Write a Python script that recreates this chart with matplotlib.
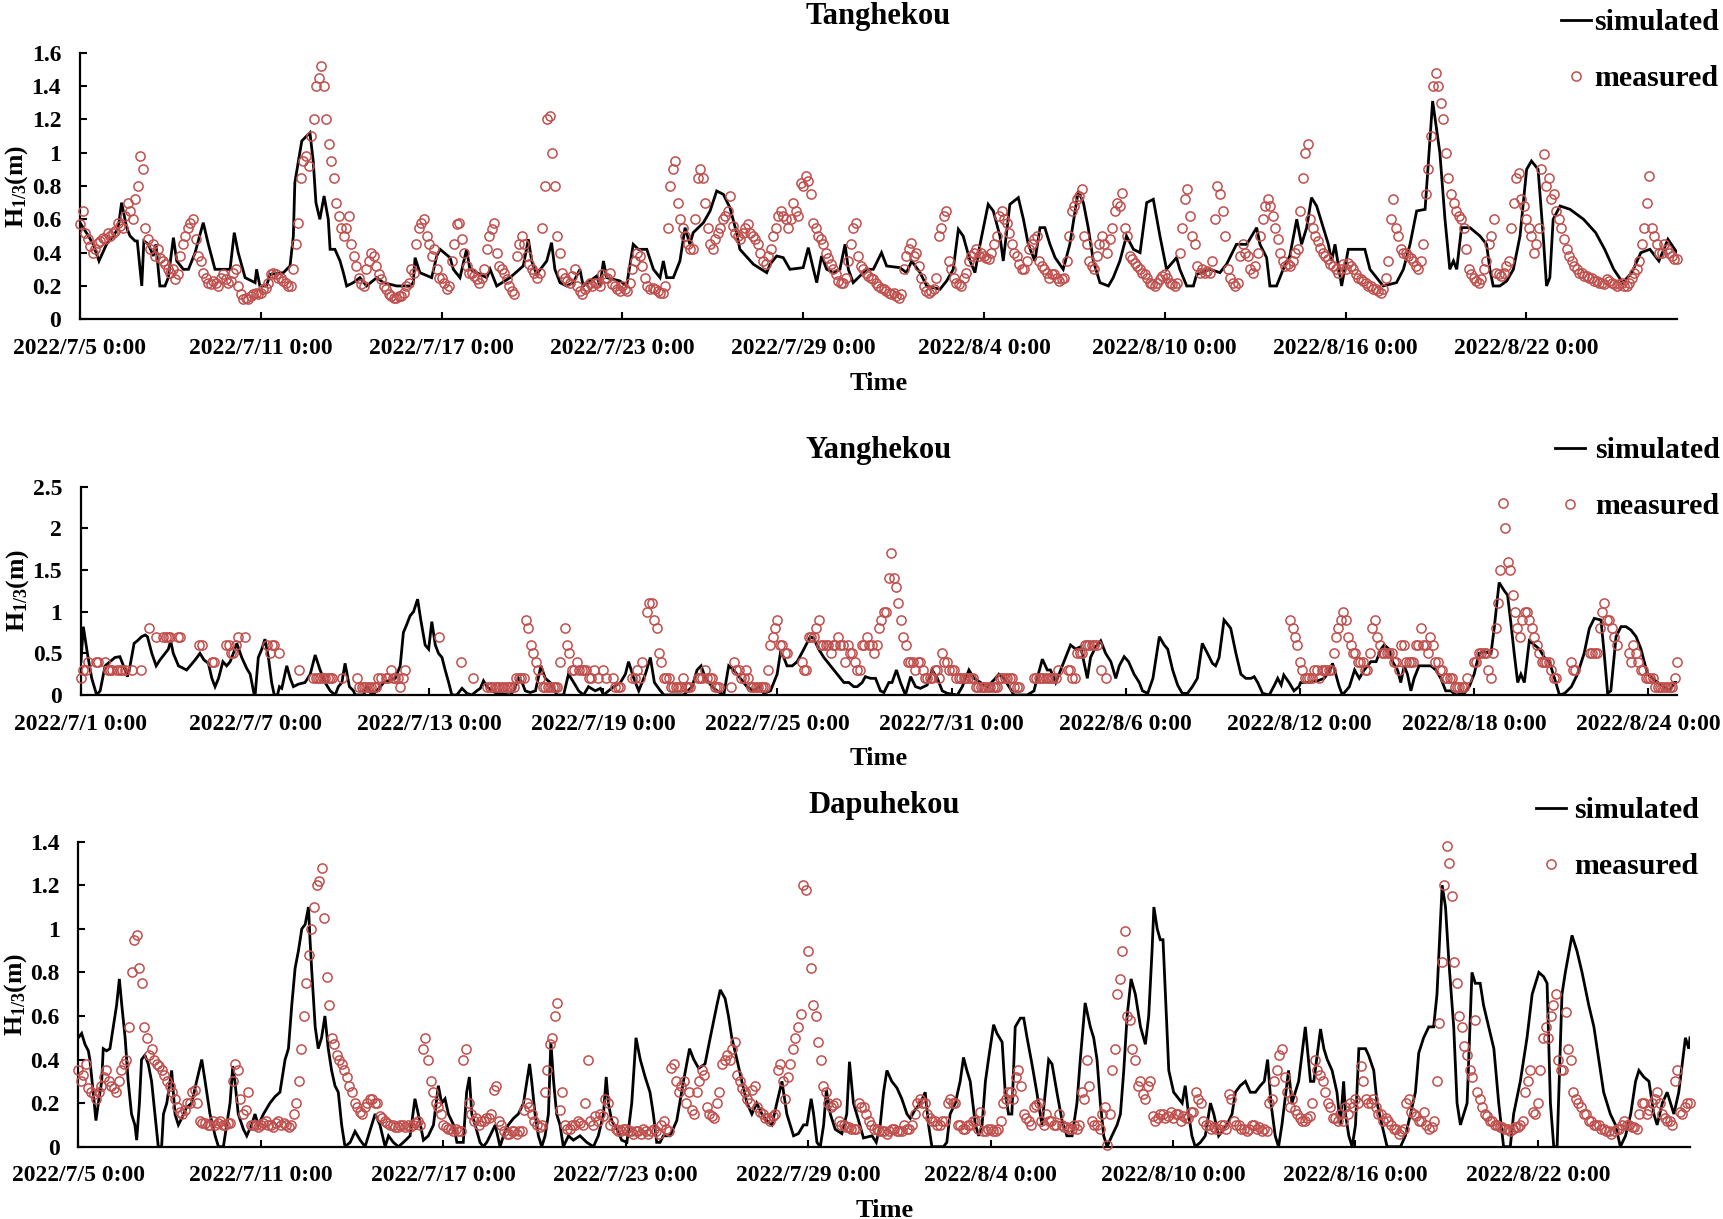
import numpy as np
import pandas as pd
import matplotlib
matplotlib.use('Agg')
import matplotlib.pyplot as plt
from matplotlib.lines import Line2D

plt.rcParams['font.family'] = ['Liberation Serif', 'DejaVu Serif']
plt.rcParams['font.weight'] = 'bold'
plt.rcParams['mathtext.fontset'] = 'custom'
plt.rcParams['mathtext.rm'] = 'Liberation Serif:bold'
plt.rcParams['mathtext.bf'] = 'Liberation Serif:bold'
plt.rcParams['mathtext.it'] = 'Liberation Serif:bold:italic'
plt.rcParams['mathtext.default'] = 'rm'

nan = float('nan')

# ---------------- data ----------------
TITLES = ['Tanghekou', 'Yanghekou', 'Dapuhekou']
STARTS = ['2022-07-05 00:00', '2022-07-01 00:00', '2022-07-05 00:00']
ENDS = ['2022-08-27 00:00', '2022-08-25 00:00', '2022-08-27 00:00']
MEAS_STEP_HOURS = 2

XTICKS_A = ['2022/7/5 0:00', '2022/7/11 0:00', '2022/7/17 0:00', '2022/7/23 0:00',
            '2022/7/29 0:00', '2022/8/4 0:00', '2022/8/10 0:00', '2022/8/16 0:00',
            '2022/8/22 0:00']
XTICKS_B = ['2022/7/1 0:00', '2022/7/7 0:00', '2022/7/13 0:00', '2022/7/19 0:00',
            '2022/7/25 0:00', '2022/7/31 0:00', '2022/8/6 0:00', '2022/8/12 0:00',
            '2022/8/18 0:00', '2022/8/24 0:00']
YTICKS_1 = [0, 0.2, 0.4, 0.6, 0.8, 1, 1.2, 1.4, 1.6]
YTICKS_2 = [0, 0.5, 1, 1.5, 2, 2.5]
YTICKS_3 = [0, 0.2, 0.4, 0.6, 0.8, 1, 1.2, 1.4]

# simulated series: (days since start, H1/3 in m)
SIM1 = [(0, 0.58), (0.28, 0.5), (0.44, 0.45), (0.63, 0.35), (0.88, 0.45), (1.11, 0.5), (1.27, 0.55),
        (1.38, 0.7), (1.55, 0.55), (1.66, 0.5), (1.83, 0.47), (1.9, 0.47), (2.05, 0.2), (2.12, 0.47),
        (2.27, 0.45), (2.43, 0.38), (2.52, 0.45), (2.65, 0.2), (2.82, 0.2), (2.93, 0.25), (3.1, 0.49),
        (3.21, 0.35), (3.43, 0.3), (3.6, 0.3), (3.82, 0.4), (4.09, 0.58), (4.26, 0.45), (4.48, 0.3),
        (4.98, 0.3), (5.12, 0.52), (5.25, 0.4), (5.48, 0.25), (5.81, 0.22), (5.86, 0.3), (5.97, 0.2),
        (6.19, 0.2), (6.31, 0.27), (6.75, 0.28), (6.97, 0.32), (7.08, 0.5), (7.13, 0.82), (7.36, 1.07),
        (7.63, 1.12), (7.74, 0.95), (7.83, 0.7), (7.96, 0.6), (8.1, 0.74), (8.24, 0.6), (8.3, 0.42),
        (8.46, 0.42), (8.63, 0.35), (8.74, 0.28), (8.85, 0.2), (9.07, 0.22), (9.29, 0.25), (9.51, 0.2),
        (9.85, 0.25), (10.07, 0.22), (10.51, 0.2), (10.95, 0.2), (11.06, 0.22), (11.12, 0.37),
        (11.28, 0.28), (11.67, 0.25), (11.84, 0.38), (11.95, 0.42), (12.28, 0.37), (12.39, 0.3),
        (12.61, 0.25), (12.83, 0.42), (12.94, 0.3), (13.5, 0.25), (13.61, 0.3), (13.83, 0.2),
        (14.27, 0.25), (14.71, 0.32), (14.88, 0.48), (14.99, 0.35), (15.15, 0.27), (15.49, 0.35),
        (15.65, 0.46), (15.76, 0.3), (15.93, 0.22), (16.15, 0.2), (16.37, 0.22), (16.59, 0.3),
        (16.7, 0.2), (17.15, 0.26), (17.26, 0.2), (17.37, 0.35), (17.48, 0.25), (17.92, 0.23),
        (18.14, 0.2), (18.36, 0.45), (18.53, 0.42), (18.81, 0.42), (19.03, 0.3), (19.25, 0.25),
        (19.36, 0.35), (19.47, 0.25), (19.69, 0.25), (19.91, 0.35), (20.08, 0.55), (20.24, 0.45),
        (20.35, 0.52), (20.69, 0.58), (20.91, 0.65), (21.13, 0.77), (21.35, 0.75), (21.57, 0.67),
        (21.79, 0.52), (21.9, 0.42), (22.35, 0.33), (22.79, 0.28), (22.9, 0.33), (23.12, 0.38),
        (23.34, 0.37), (23.56, 0.3), (24.0, 0.31), (24.17, 0.43), (24.34, 0.3), (24.45, 0.22),
        (24.61, 0.38), (24.78, 0.3), (25.0, 0.28), (25.22, 0.3), (25.39, 0.45), (25.5, 0.3),
        (25.66, 0.22), (26.11, 0.3), (26.33, 0.3), (26.6, 0.4), (26.77, 0.32), (27.21, 0.31),
        (27.43, 0.28), (27.6, 0.35), (27.88, 0.28), (28.1, 0.2), (28.54, 0.18), (28.76, 0.23),
        (28.98, 0.3), (29.15, 0.54), (29.31, 0.5), (29.54, 0.35), (29.7, 0.28), (29.87, 0.45),
        (30.14, 0.69), (30.31, 0.65), (30.53, 0.5), (30.64, 0.35), (30.86, 0.69), (31.14, 0.73),
        (31.31, 0.6), (31.47, 0.45), (31.69, 0.35), (31.86, 0.55), (32.02, 0.55), (32.19, 0.45),
        (32.36, 0.37), (32.63, 0.3), (32.85, 0.45), (33.13, 0.77), (33.3, 0.7), (33.46, 0.55),
        (33.63, 0.35), (33.85, 0.22), (34.13, 0.2), (34.29, 0.25), (34.51, 0.35), (34.73, 0.5),
        (34.96, 0.42), (35.18, 0.4), (35.4, 0.7), (35.62, 0.72), (35.84, 0.5), (36.06, 0.3),
        (36.39, 0.37), (36.5, 0.3), (36.73, 0.2), (36.95, 0.2), (37.06, 0.27), (37.5, 0.3),
        (37.83, 0.28), (38.05, 0.33), (38.38, 0.45), (38.72, 0.45), (39.05, 0.55), (39.16, 0.45),
        (39.38, 0.37), (39.49, 0.2), (39.71, 0.2), (39.93, 0.3), (40.15, 0.38), (40.38, 0.6),
        (40.54, 0.45), (40.71, 0.55), (40.87, 0.73), (41.04, 0.68), (41.26, 0.55), (41.43, 0.45),
        (41.54, 0.35), (41.65, 0.45), (41.87, 0.2), (42.09, 0.42), (42.64, 0.42), (42.81, 0.3),
        (43.25, 0.2), (43.69, 0.22), (43.92, 0.3), (44.14, 0.45), (44.36, 0.65), (44.64, 0.66),
        (44.89, 1.31), (45.13, 1.0), (45.3, 0.6), (45.46, 0.3), (45.58, 0.35), (45.69, 0.3),
        (45.85, 0.55), (46.13, 0.55), (46.46, 0.5), (46.68, 0.45), (46.79, 0.3), (46.9, 0.2),
        (47.12, 0.2), (47.35, 0.23), (47.57, 0.3), (47.79, 0.5), (48.01, 0.9), (48.17, 0.95),
        (48.39, 0.9), (48.56, 0.5), (48.67, 0.2), (48.78, 0.25), (48.89, 0.6), (49.12, 0.68),
        (49.45, 0.66), (49.9, 0.6), (50.3, 0.52), (50.6, 0.42), (50.9, 0.3), (51.2, 0.22),
        (51.5, 0.28), (51.8, 0.4), (52.1, 0.42), (52.4, 0.35), (52.7, 0.48), (53.0, 0.4)]

SIM2 = [(0, 0.4), (0.08, 0.82), (0.22, 0.5), (0.37, 0.2), (0.54, 0.0), (0.66, 0.05), (0.83, 0.35),
        (1.0, 0.4), (1.17, 0.45), (1.34, 0.46), (1.52, 0.3), (1.6, 0.22), (1.69, 0.35), (1.83, 0.62),
        (1.94, 0.65), (2.09, 0.7), (2.21, 0.72), (2.29, 0.7), (2.44, 0.5), (2.59, 0.35), (2.72, 0.42),
        (2.9, 0.5), (3.01, 0.55), (3.09, 0.65), (3.18, 0.5), (3.36, 0.35), (3.53, 0.32), (3.64, 0.3),
        (3.76, 0.35), (3.93, 0.42), (4.1, 0.5), (4.24, 0.42), (4.39, 0.38), (4.51, 0.2), (4.62, 0.1),
        (4.74, 0.2), (4.89, 0.4), (5.02, 0.35), (5.14, 0.4), (5.25, 0.5), (5.37, 0.62), (5.54, 0.45),
        (5.71, 0.32), (5.83, 0.25), (5.97, 0.0), (6.0, 0.0), (6.11, 0.45), (6.23, 0.55), (6.34, 0.67),
        (6.46, 0.45), (6.57, 0.15), (6.66, 0.0), (6.77, 0.0), (6.84, 0.1), (6.92, 0.08), (7.09, 0.35),
        (7.21, 0.2), (7.32, 0.1), (7.49, 0.13), (7.72, 0.15), (7.9, 0.25), (8.07, 0.48), (8.24, 0.3),
        (8.41, 0.15), (8.59, 0.05), (8.76, 0.0), (8.87, 0.1), (8.99, 0.15), (9.1, 0.38), (9.25, 0.1),
        (9.39, 0.05), (9.45, 0.0), (9.74, 0.0), (9.85, 0.1), (10.02, 0.0), (10.2, 0.05), (10.43, 0.15),
        (10.66, 0.18), (10.83, 0.2), (11.0, 0.35), (11.11, 0.75), (11.23, 0.85), (11.34, 0.95),
        (11.46, 1.0), (11.6, 1.15), (11.71, 0.9), (11.86, 0.6), (11.98, 0.55), (12.09, 0.88),
        (12.21, 0.6), (12.32, 0.5), (12.44, 0.45), (12.55, 0.3), (12.67, 0.15), (12.78, 0.0),
        (12.95, 0.0), (13.13, 0.08), (13.3, 0.02), (13.47, 0.0), (13.64, 0.05), (13.76, 0.08),
        (13.87, 0.17), (13.99, 0.1), (14.16, 0.05), (14.33, 0.02), (14.79, 0.0), (14.91, 0.05),
        (15.08, 0.2), (15.2, 0.15), (15.31, 0.05), (15.48, 0.03), (15.66, 0.05), (15.85, 0.35),
        (16.0, 0.2), (16.17, 0.15), (16.4, 0.0), (16.63, 0.0), (16.8, 0.25), (16.98, 0.15),
        (17.15, 0.05), (17.32, 0.0), (17.49, 0.1), (17.72, 0.05), (17.9, 0.08), (18.01, 0.0),
        (18.18, 0.05), (18.36, 0.1), (18.59, 0.15), (18.76, 0.25), (18.87, 0.4), (19.05, 0.2),
        (19.22, 0.05), (19.45, 0.25), (19.62, 0.45), (19.76, 0.15), (19.97, 0.05), (20.09, 0.0),
        (20.77, 0.0), (21.06, 0.1), (21.23, 0.3), (21.37, 0.35), (21.52, 0.2), (21.75, 0.1),
        (21.92, 0.05), (22.15, 0.0), (22.32, 0.35), (22.49, 0.3), (22.72, 0.2), (22.95, 0.1),
        (23.18, 0.05), (23.36, 0.1), (23.53, 0.02), (23.76, 0.05), (23.99, 0.25), (24.1, 0.5),
        (24.22, 0.45), (24.33, 0.35), (24.51, 0.35), (24.68, 0.4), (24.91, 0.55), (25.13, 0.7),
        (25.25, 0.68), (25.42, 0.55), (25.6, 0.45), (25.83, 0.35), (26.06, 0.25), (26.29, 0.15),
        (26.46, 0.15), (26.63, 0.1), (26.75, 0.1), (26.92, 0.15), (27.03, 0.22), (27.21, 0.2),
        (27.38, 0.2), (27.55, 0.05), (27.67, 0.03), (27.84, 0.15), (27.95, 0.15), (28.1, 0.3),
        (28.24, 0.15), (28.41, 0.0), (28.59, 0.22), (28.76, 0.1), (28.93, 0.08), (29.16, 0.12),
        (29.33, 0.3), (29.51, 0.2), (29.68, 0.05), (29.85, 0.02), (30.2, 0.0), (30.37, 0.1),
        (30.6, 0.3), (30.77, 0.2), (31.0, 0.15), (31.23, 0.1), (31.46, 0.18), (31.63, 0.25),
        (31.8, 0.2), (31.98, 0.1), (32.15, 0.0), (32.61, 0.0), (32.84, 0.05), (32.95, 0.2),
        (33.13, 0.43), (33.3, 0.3), (33.41, 0.3), (33.59, 0.15), (33.76, 0.3), (33.93, 0.45),
        (34.1, 0.6), (34.28, 0.55), (34.45, 0.58), (34.56, 0.4), (34.68, 0.2), (34.79, 0.45),
        (34.97, 0.58), (35.14, 0.65), (35.31, 0.5), (35.49, 0.4), (35.66, 0.2), (35.78, 0.35),
        (35.95, 0.46), (36.1, 0.4), (36.29, 0.25), (36.47, 0.15), (36.58, 0.05), (36.76, 0.02),
        (36.94, 0.2), (37.16, 0.7), (37.33, 0.6), (37.45, 0.55), (37.62, 0.3), (37.79, 0.12),
        (37.95, 0.02), (38.13, 0.02), (38.3, 0.1), (38.47, 0.2), (38.64, 0.62), (38.82, 0.5),
        (38.99, 0.38), (39.1, 0.35), (39.22, 0.45), (39.39, 0.9), (39.51, 0.85), (39.62, 0.8),
        (39.8, 0.5), (39.97, 0.25), (40.14, 0.2), (40.32, 0.2), (40.43, 0.22), (40.55, 0.15),
        (40.72, 0.02), (40.95, 0.0), (41.13, 0.12), (41.24, 0.2), (41.36, 0.12), (41.45, 0.24),
        (41.63, 0.15), (41.8, 0.05), (41.97, 0.1), (42.03, 0.15), (42.26, 0.15), (42.61, 0.17),
        (42.84, 0.2), (43.01, 0.28), (43.13, 0.38), (43.24, 0.25), (43.36, 0.1), (43.47, 0.0),
        (43.59, 0.05), (43.71, 0.1), (43.89, 0.3), (44.05, 0.2), (44.22, 0.3), (44.45, 0.4),
        (44.63, 0.4), (44.8, 0.55), (44.91, 0.6), (45.08, 0.55), (45.2, 0.4), (45.37, 0.3),
        (45.48, 0.15), (45.6, 0.35), (45.71, 0.25), (45.83, 0.05), (45.94, 0.2), (46.11, 0.35),
        (46.29, 0.35), (46.52, 0.35), (46.69, 0.3), (46.86, 0.2), (47.03, 0.05), (47.21, 0.05),
        (47.38, 0.0), (47.67, 0.02), (47.84, 0.1), (48.01, 0.25), (48.18, 0.5), (48.36, 0.52),
        (48.59, 0.5), (48.7, 0.8), (48.87, 1.35), (49.05, 1.25), (49.16, 1.2), (49.28, 0.85),
        (49.39, 0.5), (49.51, 0.15), (49.62, 0.25), (49.74, 0.15), (49.91, 0.65), (50.09, 0.6),
        (50.26, 0.55), (50.43, 0.45), (50.6, 0.4), (50.78, 0.2), (50.95, 0.0), (51.13, 0.02),
        (51.36, 0.1), (51.57, 0.25), (51.8, 0.5), (51.98, 0.8), (52.15, 0.92), (52.38, 0.9),
        (52.49, 0.5), (52.61, 0.02), (52.72, 0.05), (52.9, 0.7), (53.07, 0.82), (53.24, 0.82),
        (53.41, 0.78), (53.59, 0.7), (53.76, 0.55), (53.87, 0.4), (53.99, 0.25), (54.16, 0.2),
        (54.33, 0.15), (54.56, 0.1), (54.74, 0.05), (54.91, 0.15), (55.0, 0.15)]

SIM3 = [(0, 0.5), (0.11, 0.52), (0.22, 0.47), (0.33, 0.44), (0.38, 0.4), (0.49, 0.25), (0.58, 0.12),
        (0.66, 0.2), (0.77, 0.3), (0.82, 0.45), (0.93, 0.44), (1.04, 0.45), (1.15, 0.55), (1.26, 0.65),
        (1.35, 0.77), (1.43, 0.65), (1.54, 0.5), (1.64, 0.3), (1.75, 0.15), (1.86, 0.1), (1.92, 0.03),
        (2.01, 0.2), (2.08, 0.4), (2.19, 0.42), (2.3, 0.38), (2.41, 0.3), (2.52, 0.15), (2.63, 0.0),
        (2.74, 0.0), (2.8, 0.15), (2.91, 0.2), (3.07, 0.35), (3.18, 0.15), (3.29, 0.1), (3.4, 0.13),
        (3.56, 0.18), (3.73, 0.2), (3.89, 0.3), (4.06, 0.4), (4.17, 0.3), (4.33, 0.15), (4.5, 0.05),
        (4.61, 0.0), (4.77, 0.0), (4.88, 0.1), (4.99, 0.2), (5.08, 0.37), (5.15, 0.3), (5.26, 0.15),
        (5.43, 0.08), (5.54, 0.05), (5.7, 0.1), (5.81, 0.15), (5.92, 0.1), (6.09, 0.15), (6.3, 0.2),
        (6.47, 0.23), (6.63, 0.25), (6.8, 0.4), (6.91, 0.45), (7.02, 0.65), (7.13, 0.82), (7.24, 0.9),
        (7.35, 1.0), (7.46, 1.02), (7.57, 1.1), (7.62, 0.95), (7.68, 0.8), (7.79, 0.55), (7.89, 0.45),
        (8.0, 0.5), (8.11, 0.6), (8.22, 0.45), (8.33, 0.35), (8.44, 0.28), (8.55, 0.25), (8.66, 0.1),
        (8.77, 0.0), (8.94, 0.02), (9.1, 0.07), (9.27, 0.03), (9.43, 0.0), (9.54, 0.05), (9.65, 0.1),
        (9.76, 0.15), (9.92, 0.1), (10.09, 0.0), (10.2, 0.05), (10.36, 0.02), (10.53, 0.0),
        (10.69, 0.02), (10.91, 0.05), (11.07, 0.22), (11.18, 0.15), (11.35, 0.03), (11.51, 0.05),
        (11.68, 0.1), (11.84, 0.28), (11.95, 0.2), (12.06, 0.22), (12.17, 0.15), (12.34, 0.1),
        (12.45, 0.02), (12.66, 0.02), (12.77, 0.25), (12.86, 0.32), (12.94, 0.15), (13.05, 0.1),
        (13.21, 0.02), (13.32, 0.0), (13.43, 0.02), (13.54, 0.05), (13.71, 0.1), (13.87, 0.0),
        (13.98, 0.05), (14.14, 0.1), (14.31, 0.13), (14.47, 0.15), (14.64, 0.2), (14.75, 0.3),
        (14.84, 0.38), (14.91, 0.3), (15.02, 0.15), (15.13, 0.05), (15.24, 0.0), (15.35, 0.05),
        (15.46, 0.15), (15.54, 0.48), (15.63, 0.3), (15.73, 0.15), (15.84, 0.1), (15.95, 0.0),
        (16.12, 0.05), (16.28, 0.03), (16.5, 0.05), (16.72, 0.02), (16.94, 0.0), (17.1, 0.05),
        (17.27, 0.15), (17.36, 0.32), (17.43, 0.2), (17.54, 0.12), (17.71, 0.08), (17.87, 0.03),
        (18.04, 0.02), (18.2, 0.2), (18.34, 0.5), (18.48, 0.4), (18.64, 0.32), (18.8, 0.25),
        (18.91, 0.15), (19.02, 0.02), (19.13, 0.02), (19.24, 0.05), (19.46, 0.05), (19.68, 0.12),
        (19.9, 0.3), (20.1, 0.45), (20.24, 0.4), (20.4, 0.36), (20.61, 0.38), (20.78, 0.5),
        (21.0, 0.65), (21.11, 0.72), (21.27, 0.68), (21.38, 0.6), (21.49, 0.5), (21.66, 0.4),
        (21.82, 0.3), (21.99, 0.2), (22.15, 0.15), (22.31, 0.2), (22.48, 0.15), (22.64, 0.12),
        (22.81, 0.1), (22.97, 0.2), (23.14, 0.3), (23.3, 0.15), (23.52, 0.05), (23.68, 0.06),
        (23.85, 0.1), (23.96, 0.1), (24.1, 0.22), (24.18, 0.15), (24.29, 0.02), (24.4, 0.0),
        (24.51, 0.1), (24.6, 0.26), (24.73, 0.15), (24.89, 0.08), (25.11, 0.06), (25.27, 0.15),
        (25.36, 0.39), (25.49, 0.2), (25.66, 0.12), (25.82, 0.04), (26.1, 0.05), (26.24, 0.02),
        (26.37, 0.1), (26.48, 0.25), (26.59, 0.35), (26.75, 0.3), (26.92, 0.27), (27.08, 0.22),
        (27.25, 0.15), (27.36, 0.13), (27.52, 0.17), (27.69, 0.2), (27.85, 0.25), (27.96, 0.1),
        (28.07, 0.0), (28.45, 0.0), (28.56, 0.02), (28.67, 0.15), (28.84, 0.2), (29.0, 0.3),
        (29.11, 0.41), (29.22, 0.35), (29.33, 0.3), (29.5, 0.1), (29.61, 0.05), (29.72, 0.1),
        (29.83, 0.3), (29.93, 0.4), (30.1, 0.56), (30.21, 0.52), (30.38, 0.48), (30.48, 0.25),
        (30.59, 0.15), (30.7, 0.15), (30.81, 0.55), (30.98, 0.59), (31.09, 0.59), (31.2, 0.5),
        (31.36, 0.38), (31.52, 0.25), (31.69, 0.1), (31.8, 0.25), (31.91, 0.4), (32.02, 0.38),
        (32.18, 0.25), (32.35, 0.12), (32.51, 0.05), (32.68, 0.05), (32.84, 0.2), (32.95, 0.4),
        (33.11, 0.66), (33.28, 0.55), (33.39, 0.5), (33.5, 0.4), (33.61, 0.2), (33.72, 0.05),
        (33.83, 0.0), (33.99, 0.05), (34.16, 0.1), (34.27, 0.15), (34.38, 0.35), (34.49, 0.6),
        (34.62, 0.77), (34.76, 0.7), (34.93, 0.55), (35.09, 0.47), (35.2, 0.6), (35.31, 0.9),
        (35.37, 1.1), (35.48, 1.0), (35.58, 0.95), (35.67, 0.95), (35.75, 0.7), (35.86, 0.35),
        (36.02, 0.25), (36.19, 0.22), (36.3, 0.2), (36.4, 0.28), (36.51, 0.15), (36.62, 0.05),
        (36.73, 0.0), (36.9, 0.02), (37.06, 0.05), (37.23, 0.2), (37.34, 0.15), (37.5, 0.05),
        (37.67, 0.08), (37.77, 0.1), (37.94, 0.15), (38.05, 0.25), (38.21, 0.28), (38.38, 0.3),
        (38.54, 0.25), (38.71, 0.25), (38.87, 0.28), (39.0, 0.3), (39.11, 0.4), (39.22, 0.2),
        (39.36, 0.05), (39.47, 0.0), (39.58, 0.1), (39.8, 0.35), (39.91, 0.2), (40.13, 0.3),
        (40.35, 0.55), (40.52, 0.3), (40.63, 0.3), (40.85, 0.54), (40.96, 0.45), (41.07, 0.4),
        (41.23, 0.35), (41.39, 0.25), (41.5, 0.1), (41.61, 0.3), (41.67, 0.15), (41.78, 0.05),
        (41.89, 0.0), (42.0, 0.1), (42.11, 0.45), (42.33, 0.45), (42.43, 0.42), (42.6, 0.35),
        (42.71, 0.2), (42.87, 0.1), (43.04, 0.0), (43.48, 0.0), (43.64, 0.05), (43.81, 0.15),
        (43.97, 0.25), (44.08, 0.43), (44.24, 0.5), (44.41, 0.55), (44.57, 0.55), (44.68, 0.7),
        (44.85, 1.2), (44.96, 1.1), (45.07, 0.85), (45.23, 0.55), (45.34, 0.2), (45.45, 0.1),
        (45.56, 0.15), (45.67, 0.2), (45.83, 0.8), (45.94, 0.75), (46.1, 0.75), (46.21, 0.65),
        (46.38, 0.55), (46.55, 0.45), (46.71, 0.2), (46.87, 0.0), (47.09, 0.0), (47.2, 0.15),
        (47.42, 0.3), (47.64, 0.5), (47.81, 0.7), (48.03, 0.8), (48.19, 0.78), (48.3, 0.75),
        (48.41, 0.2), (48.52, 0.0), (48.63, 0.0), (48.79, 0.7), (48.9, 0.8), (49.12, 0.97),
        (49.28, 0.9), (49.45, 0.8), (49.67, 0.65), (49.84, 0.55), (50.0, 0.4), (50.16, 0.25),
        (50.38, 0.15), (50.55, 0.1), (50.71, 0.0), (50.88, 0.05), (51.05, 0.15), (51.21, 0.3),
        (51.32, 0.35), (51.48, 0.32), (51.65, 0.3), (51.81, 0.15), (51.92, 0.1), (52.09, 0.2),
        (52.25, 0.25), (52.47, 0.15), (52.63, 0.25), (52.85, 0.5), (52.96, 0.45), (53.0, 0.5)]

# measured series: one value every 2 hours from the start (one row per day)
MEAS1 = [0.57, 0.65, 0.52, 0.48, 0.44, 0.40, 0.42, 0.46, 0.47, 0.49, 0.48, 0.52,
         0.50, 0.52, 0.53, 0.58, 0.56, 0.55, 0.62, 0.70, 0.65, 0.60, 0.72, 0.80,
         0.98, 0.90, 0.55, 0.48, 0.42, 0.45, 0.38, 0.42, 0.37, 0.35, 0.33, 0.30,
         0.28, 0.30, 0.24, 0.27, 0.38, 0.45, 0.50, 0.55, 0.58, 0.60, 0.48, 0.38,
         0.35, 0.28, 0.25, 0.22, 0.21, 0.23, 0.22, 0.20, 0.25, 0.27, 0.24, 0.22,
         0.23, 0.28, 0.30, 0.20, 0.15, 0.12, 0.13, 0.12, 0.14, 0.15, 0.16, 0.15,
         0.16, 0.18, 0.19, 0.22, 0.27, 0.28, 0.27, 0.25, 0.25, 0.23, 0.22, 0.20,
         0.20, 0.30, 0.45, 0.58, 0.85, 0.95, 0.98, 0.92, 1.10, 1.20, 1.40, 1.45,
         1.52, 1.40, 1.20, 1.05, 0.95, 0.85, 0.70, 0.62, 0.55, 0.50, 0.55, 0.62,
         0.45, 0.38, 0.32, 0.25, 0.21, 0.20, 0.30, 0.35, 0.40, 0.38, 0.32, 0.27,
         0.24, 0.20, 0.18, 0.15, 0.14, 0.13, 0.13, 0.14, 0.14, 0.16, 0.20, 0.22,
         0.30, 0.28, 0.45, 0.55, 0.58, 0.60, 0.50, 0.45, 0.38, 0.42, 0.30, 0.25,
         0.25, 0.22, 0.18, 0.20, 0.35, 0.45, 0.57, 0.58, 0.48, 0.40, 0.32, 0.28,
         0.28, 0.26, 0.24, 0.22, 0.25, 0.30, 0.42, 0.50, 0.54, 0.58, 0.40, 0.32,
         0.30, 0.28, 0.24, 0.20, 0.17, 0.15, 0.38, 0.45, 0.50, 0.45, 0.38, 0.33,
         0.30, 0.28, 0.25, 0.28, 0.55, 0.80, 1.20, 1.22, 1.00, 0.80, 0.50, 0.40,
         0.28, 0.25, 0.23, 0.22, 0.26, 0.30, 0.20, 0.17, 0.15, 0.18, 0.20, 0.22,
         0.20, 0.22, 0.22, 0.20, 0.27, 0.25, 0.25, 0.28, 0.21, 0.20, 0.18, 0.17,
         0.20, 0.18, 0.17, 0.22, 0.30, 0.35, 0.40, 0.38, 0.32, 0.25, 0.20, 0.18,
         0.19, 0.18, 0.17, 0.16, 0.16, 0.20, 0.55, 0.80, 0.90, 0.95, 0.70, 0.60,
         0.55, 0.50, 0.45, 0.42, 0.42, 0.60, 0.85, 0.90, 0.85, 0.70, 0.55, 0.45,
         0.42, 0.48, 0.52, 0.55, 0.60, 0.62, 0.65, 0.74, 0.56, 0.52, 0.50, 0.48,
         0.52, 0.55, 0.57, 0.52, 0.50, 0.48, 0.45, 0.40, 0.35, 0.33, 0.38, 0.42,
         0.50, 0.55, 0.62, 0.65, 0.62, 0.60, 0.55, 0.60, 0.70, 0.65, 0.62, 0.82,
         0.80, 0.86, 0.83, 0.75, 0.58, 0.55, 0.50, 0.48, 0.45, 0.40, 0.37, 0.33,
         0.30, 0.27, 0.23, 0.22, 0.22, 0.25, 0.35, 0.45, 0.55, 0.58, 0.38, 0.32,
         0.30, 0.28, 0.26, 0.25, 0.24, 0.22, 0.20, 0.19, 0.18, 0.17, 0.16, 0.15,
         0.16, 0.14, 0.13, 0.15, 0.30, 0.38, 0.42, 0.46, 0.38, 0.40, 0.32, 0.25,
         0.20, 0.17, 0.16, 0.17, 0.18, 0.25, 0.50, 0.55, 0.62, 0.65, 0.35, 0.30,
         0.25, 0.22, 0.21, 0.20, 0.25, 0.28, 0.35, 0.38, 0.40, 0.42, 0.38, 0.40,
         0.38, 0.37, 0.36, 0.40, 0.45, 0.50, 0.62, 0.65, 0.60, 0.58, 0.52, 0.45,
         0.40, 0.38, 0.33, 0.30, 0.30, 0.35, 0.42, 0.45, 0.48, 0.50, 0.35, 0.32,
         0.30, 0.28, 0.25, 0.27, 0.27, 0.25, 0.23, 0.24, 0.25, 0.35, 0.50, 0.65,
         0.68, 0.72, 0.74, 0.78, 0.50, 0.45, 0.35, 0.32, 0.30, 0.38, 0.45, 0.50,
         0.45, 0.40, 0.48, 0.55, 0.65, 0.70, 0.68, 0.76, 0.55, 0.50, 0.38, 0.36,
         0.34, 0.32, 0.30, 0.28, 0.27, 0.25, 0.22, 0.21, 0.20, 0.22, 0.24, 0.26,
         0.27, 0.25, 0.22, 0.21, 0.20, 0.22, 0.40, 0.55, 0.72, 0.78, 0.62, 0.50,
         0.45, 0.32, 0.28, 0.30, 0.28, 0.29, 0.28, 0.35, 0.60, 0.80, 0.75, 0.65,
         0.50, 0.30, 0.25, 0.22, 0.20, 0.22, 0.38, 0.45, 0.40, 0.38, 0.30, 0.28,
         0.32, 0.40, 0.50, 0.60, 0.68, 0.72, 0.68, 0.62, 0.55, 0.48, 0.40, 0.35,
         0.32, 0.33, 0.32, 0.35, 0.40, 0.42, 0.65, 0.85, 1.00, 1.05, 0.60, 0.55,
         0.50, 0.47, 0.43, 0.40, 0.38, 0.36, 0.33, 0.32, 0.30, 0.28, 0.30, 0.33,
         0.30, 0.34, 0.32, 0.30, 0.27, 0.25, 0.24, 0.23, 0.22, 0.20, 0.20, 0.18,
         0.18, 0.17, 0.16, 0.18, 0.25, 0.35, 0.60, 0.72, 0.55, 0.50, 0.42, 0.40,
         0.40, 0.38, 0.37, 0.35, 0.32, 0.30, 0.35, 0.45, 0.75, 0.90, 1.10, 1.40,
         1.48, 1.40, 1.30, 1.20, 1.00, 0.85, 0.75, 0.70, 0.65, 0.62, 0.60, 0.55,
         0.42, 0.30, 0.27, 0.25, 0.23, 0.22, 0.24, 0.30, 0.35, 0.45, 0.50, 0.60,
         0.28, 0.27, 0.26, 0.28, 0.32, 0.35, 0.55, 0.70, 0.85, 0.88, 0.72, 0.68,
         0.60, 0.55, 0.50, 0.40, 0.45, 0.55, 0.90, 0.99, 0.80, 0.85, 0.72, 0.75,
         0.65, 0.60, 0.55, 0.48, 0.42, 0.38, 0.35, 0.32, 0.30, 0.28, 0.28, 0.26,
         0.26, 0.25, 0.25, 0.23, 0.23, 0.22, 0.22, 0.21, 0.24, 0.23, 0.22, 0.21,
         0.20, 0.21, 0.22, 0.20, 0.20, 0.22, 0.25, 0.28, 0.30, 0.35, 0.45, 0.55,
         0.70, 0.86, 0.55, 0.50, 0.45, 0.40, 0.40, 0.45, 0.42, 0.40, 0.38, 0.36,
         0.36]

MEAS2 = [0.2, 0.3, 0.3, 0.4, nan, nan, 0.4, 0.4, nan, nan, 0.4, 0.3,
         0.3, 0.3, nan, 0.3, 0.3, 0.3, 0.3, nan, nan, 0.3, nan, nan,
         nan, 0.3, nan, nan, 0.8, nan, nan, 0.7, nan, nan, 0.7, 0.7,
         0.7, 0.7, nan, nan, 0.7, 0.7, nan, nan, nan, nan, nan, nan,
         nan, 0.6, 0.6, nan, nan, nan, 0.4, 0.4, nan, nan, nan, nan,
         0.6, 0.6, 0.5, 0.5, 0.6, 0.7, nan, nan, 0.7, nan, nan, nan,
         nan, nan, nan, nan, nan, 0.6, 0.5, 0.6, 0.6, nan, 0.5, nan,
         nan, nan, nan, nan, nan, nan, 0.3, nan, nan, nan, nan, nan,
         0.2, 0.2, 0.2, 0.2, 0.2, 0.2, 0.2, 0.2, 0.2, nan, nan, nan,
         0.2, nan, nan, nan, nan, nan, 0.2, 0.1, 0.1, 0.1, 0.1, 0.1,
         0.1, 0.1, 0.1, 0.2, 0.2, nan, 0.2, 0.2, 0.3, 0.2, 0.2, 0.2,
         0.1, 0.2, 0.3, nan, nan, nan, nan, nan, nan, nan, nan, nan,
         nan, nan, nan, nan, 0.7, nan, nan, nan, nan, nan, nan, nan,
         nan, 0.4, nan, nan, nan, nan, 0.2, nan, nan, nan, nan, nan,
         0.1, 0.1, 0.1, 0.1, 0.1, 0.1, 0.1, 0.1, 0.1, 0.1, 0.1, 0.1,
         0.2, 0.2, 0.2, 0.2, 0.9, 0.8, 0.6, 0.5, 0.4, 0.3, 0.2, 0.1,
         0.1, 0.1, 0.1, 0.1, 0.1, 0.1, 0.4, nan, 0.8, 0.6, 0.5, 0.3,
         0.3, 0.4, 0.3, 0.3, 0.3, 0.3, 0.2, 0.2, 0.3, nan, 0.2, nan,
         0.3, 0.2, nan, nan, 0.2, 0.1, 0.1, 0.1, nan, nan, nan, nan,
         0.2, 0.2, 0.3, 0.2, 0.4, nan, 1.0, 1.1, 1.1, 0.9, 0.8, 0.5,
         0.4, 0.2, 0.2, 0.2, 0.1, 0.1, 0.1, 0.1, 0.1, 0.2, 0.1, 0.1,
         0.1, nan, nan, 0.2, 0.2, 0.2, 0.3, 0.2, 0.2, 0.2, 0.1, 0.1,
         0.1, nan, nan, nan, nan, 0.1, 0.4, 0.3, 0.3, 0.2, 0.2, 0.3,
         0.2, 0.1, 0.1, 0.1, 0.1, 0.1, 0.1, 0.1, 0.3, 0.6, 0.7, 0.8,
         0.9, 0.6, 0.6, 0.5, 0.5, nan, nan, nan, nan, nan, 0.4, 0.3,
         0.3, 0.7, 0.7, 0.7, 0.8, 0.9, 0.6, 0.6, 0.6, 0.6, 0.5, 0.6,
         0.6, 0.7, 0.6, 0.6, 0.4, 0.6, 0.5, 0.5, 0.4, 0.3, 0.3, 0.6,
         0.6, 0.7, 0.6, 0.6, 0.5, 0.6, 0.8, 0.9, 1.0, 1.0, 1.4, 1.7,
         1.4, 1.3, 1.1, 0.9, 0.7, 0.6, 0.4, 0.4, 0.4, 0.3, 0.4, 0.4,
         0.3, 0.2, 0.2, 0.2, 0.2, 0.3, 0.3, 0.2, 0.5, 0.4, 0.4, 0.3,
         0.3, 0.3, 0.2, 0.2, 0.2, 0.2, 0.2, 0.2, 0.2, 0.2, 0.1, 0.1,
         0.1, 0.1, 0.1, 0.1, 0.1, 0.1, 0.1, 0.1, 0.2, 0.2, 0.2, 0.2,
         0.2, 0.2, 0.1, 0.1, 0.1, nan, nan, nan, nan, nan, 0.2, 0.2,
         0.2, 0.2, 0.2, 0.2, 0.2, 0.2, 0.2, 0.2, 0.3, nan, nan, nan,
         0.3, 0.3, 0.2, 0.2, 0.5, 0.5, 0.5, 0.6, 0.6, 0.6, 0.6, 0.6,
         0.6, nan, 0.3, nan, 0.2, nan, nan, nan, nan, nan, nan, nan,
         nan, nan, nan, nan, nan, nan, nan, nan, nan, nan, nan, nan,
         nan, nan, nan, nan, nan, nan, nan, nan, nan, nan, nan, nan,
         nan, nan, nan, nan, nan, nan, nan, nan, nan, nan, nan, nan,
         nan, nan, nan, nan, nan, nan, nan, nan, nan, nan, nan, nan,
         nan, nan, nan, nan, nan, nan, nan, nan, nan, nan, nan, nan,
         nan, nan, nan, nan, nan, nan, nan, nan, 0.9, 0.8, 0.7, 0.6,
         0.4, 0.3, 0.2, 0.2, 0.2, 0.2, 0.3, 0.3, 0.2, 0.3, 0.3, 0.3,
         0.3, 0.3, 0.5, 0.7, 0.8, 0.9, 1.0, 0.9, 0.7, 0.6, 0.5, 0.5,
         0.4, 0.4, 0.4, 0.3, 0.3, 0.5, 0.8, 0.9, 0.7, 0.6, 0.5, 0.5,
         0.5, 0.5, 0.5, 0.4, 0.4, 0.3, 0.6, 0.6, 0.4, 0.4, 0.4, 0.4,
         0.6, 0.6, 0.8, 0.6, 0.6, 0.5, 0.7, 0.6, 0.4, 0.4, 0.3, 0.3,
         0.2, 0.2, 0.2, 0.2, 0.1, 0.1, 0.1, 0.1, 0.1, 0.2, nan, nan,
         0.4, 0.4, 0.5, 0.5, 0.5, 0.5, 0.3, 0.2, 0.5, 0.8, 1.1, 1.5,
         2.3, 2.0, 1.6, 1.5, 1.2, 1.0, 0.8, 0.7, 0.9, 1.0, 1.0, 0.9,
         0.8, 0.7, 0.6, 0.5, 0.4, 0.4, 0.4, 0.4, 0.3, 0.2, 0.2, nan,
         nan, nan, nan, nan, 0.4, 0.3, 0.3, nan, nan, nan, nan, nan,
         0.5, 0.5, 0.5, 0.5, 0.8, 1.0, 1.1, 0.9, 0.9, 0.8, 0.7, 0.6,
         nan, nan, nan, nan, 0.5, 0.4, 0.6, 0.5, 0.4, 0.3, 0.3, 0.2,
         0.2, 0.2, 0.2, 0.1, 0.1, 0.1, 0.1, 0.1, 0.1, 0.1, 0.1, 0.2,
         0.4]

MEAS3 = [0.35, 0.30, 0.33, 0.38, 0.27, 0.25, 0.24, 0.22, 0.25, 0.28, 0.32, 0.35,
         0.30, 0.28, 0.27, 0.25, 0.30, 0.35, 0.38, 0.40, 0.55, 0.80, 0.95, 0.97,
         0.82, 0.75, 0.55, 0.50, 0.42, 0.45, 0.40, 0.38, 0.37, 0.35, 0.33, 0.30,
         0.28, 0.25, 0.22, 0.18, 0.16, 0.15, 0.17, 0.20, 0.20, 0.25, 0.26, 0.20,
         0.12, 0.11, 0.11, 0.10, 0.10, 0.12, 0.10, 0.11, 0.12, 0.10, 0.10, 0.11,
         0.11, 0.30, 0.38, 0.35, 0.22, 0.15, 0.17, 0.25, 0.10, 0.10, 0.10, 0.09,
         0.10, 0.11, 0.12, 0.10, 0.10, 0.09, 0.11, 0.12, 0.10, 0.11, 0.10, 0.09,
         0.10, 0.15, 0.20, 0.30, 0.45, 0.60, 0.75, 0.88, 1.00, 1.10, 1.20, 1.22,
         1.28, 1.05, 0.78, 0.65, 0.50, 0.47, 0.42, 0.40, 0.38, 0.35, 0.32, 0.28,
         0.25, 0.20, 0.18, 0.16, 0.15, 0.18, 0.20, 0.22, 0.22, 0.20, 0.20, 0.14,
         0.13, 0.12, 0.11, 0.10, 0.10, 0.09, 0.09, 0.10, 0.10, 0.09, 0.10, 0.09,
         0.10, 0.11, 0.12, 0.10, 0.45, 0.50, 0.40, 0.30, 0.25, 0.20, 0.18, 0.15,
         0.10, 0.09, 0.08, 0.08, 0.07, 0.08, 0.07, 0.07, 0.40, 0.45, 0.20, 0.15,
         0.12, 0.13, 0.10, 0.12, 0.12, 0.13, 0.13, 0.15, 0.26, 0.28, 0.12, 0.10,
         0.07, 0.06, 0.06, 0.07, 0.07, 0.06, 0.07, 0.07, 0.17, 0.20, 0.18, 0.15,
         0.12, 0.10, 0.09, 0.10, 0.25, 0.35, 0.47, 0.50, 0.60, 0.66, 0.17, 0.25,
         0.10, 0.08, 0.08, 0.10, 0.10, 0.12, 0.11, 0.10, 0.20, 0.40, 0.12, 0.10,
         0.14, 0.12, 0.15, 0.14, 0.22, 0.20, 0.10, 0.12, 0.08, 0.07, 0.07, 0.08,
         0.08, 0.07, 0.07, 0.06, 0.07, 0.07, 0.06, 0.08, 0.07, 0.06, 0.07, 0.08,
         0.07, 0.06, 0.10, 0.12, 0.08, 0.07, 0.36, 0.38, 0.30, 0.25, 0.28, 0.30,
         0.20, 0.25, 0.17, 0.15, 0.25, 0.30, 0.35, 0.33, 0.18, 0.15, 0.14, 0.13,
         0.20, 0.25, 0.38, 0.40, 0.42, 0.40, 0.45, 0.48, 0.33, 0.30, 0.27, 0.25,
         0.22, 0.20, 0.26, 0.28, 0.18, 0.16, 0.15, 0.13, 0.13, 0.12, 0.14, 0.15,
         0.35, 0.38, 0.30, 0.22, 0.32, 0.38, 0.45, 0.50, 0.55, 0.61, 1.20, 1.18,
         0.90, 0.82, 0.65, 0.60, 0.48, 0.40, 0.28, 0.25, 0.20, 0.18, 0.19, 0.20,
         0.12, 0.10, 0.10, 0.09, 0.09, 0.08, 0.08, 0.08, 0.20, 0.18, 0.18, 0.15,
         0.12, 0.10, 0.08, 0.08, 0.07, 0.07, 0.07, 0.06, 0.07, 0.08, 0.08, 0.07,
         0.07, 0.07, 0.10, 0.08, 0.08, 0.10, 0.15, 0.20, 0.22, 0.20, 0.20, 0.15,
         0.13, 0.12, 0.12, 0.10, 0.10, 0.12, 0.12, 0.20, 0.22, 0.20, 0.20, 0.10,
         0.10, 0.08, 0.08, 0.10, 0.10, 0.12, 0.12, 0.08, 0.16, 0.07, 0.07, 0.08,
         0.08, 0.07, 0.07, 0.08, 0.12, 0.20, 0.22, 0.25, 0.25, 0.22, 0.32, 0.35,
         0.28, 0.15, 0.13, 0.12, 0.10, 0.18, 0.19, 0.20, 0.12, 0.10, 0.15, 0.12,
         0.12, 0.10, 0.10, 0.15, 0.10, 0.09, 0.09, 0.08, 0.08, 0.10, 0.08, 0.10,
         0.25, 0.22, 0.40, 0.28, 0.12, 0.10, 0.10, 0.08, 0.15, 0.18, 0.01, 0.15,
         0.35, 0.45, 0.70, 0.77, 0.90, 0.99, 0.60, 0.58, 0.45, 0.40, 0.28, 0.30,
         0.24, 0.22, 0.28, 0.30, 0.14, 0.12, 0.13, 0.15, 0.15, 0.13, 0.14, 0.16,
         0.13, 0.15, 0.15, 0.12, 0.14, 0.13, 0.13, 0.16, 0.16, 0.25, 0.22, 0.20,
         0.12, 0.10, 0.10, 0.08, 0.09, 0.08, 0.08, 0.10, 0.10, 0.08, 0.24, 0.22,
         0.12, 0.10, 0.10, 0.08, 0.08, 0.07, 0.08, 0.10, 0.10, 0.08, 0.09, 0.07,
         0.08, 0.07, 0.20, 0.22, 0.30, 0.35, 0.42, 0.45, 0.32, 0.25, 0.18, 0.22,
         0.17, 0.15, 0.13, 0.12, 0.12, 0.13, 0.14, 0.20, 0.40, 0.35, 0.33, 0.30,
         0.25, 0.20, 0.18, 0.13, 0.13, 0.12, 0.15, 0.12, 0.18, 0.15, 0.20, 0.18,
         0.22, 0.20, 0.37, 0.30, 0.22, 0.20, 0.20, 0.22, 0.18, 0.15, 0.15, 0.12,
         0.13, 0.12, 0.10, 0.08, 0.08, 0.06, 0.07, 0.08, 0.20, 0.22, 0.16, 0.15,
         0.14, 0.12, 0.12, 0.16, 0.10, 0.08, 0.09, 0.12, 0.30, 0.57, 0.85, 1.20,
         1.38, 1.30, 1.15, 0.85, 0.75, 0.60, 0.55, 0.46, 0.42, 0.35, 0.32, 0.58,
         0.25, 0.22, 0.18, 0.15, 0.14, 0.12, 0.12, 0.10, 0.10, 0.09, 0.09, 0.08,
         0.08, 0.07, 0.08, 0.09, 0.09, 0.10, 0.12, 0.25, 0.30, 0.35, 0.16, 0.15,
         0.20, 0.35, 0.50, 0.55, 0.50, 0.60, 0.65, 0.70, 0.40, 0.35, 0.35, 0.62,
         0.45, 0.40, 0.25, 0.22, 0.20, 0.18, 0.15, 0.15, 0.12, 0.12, 0.10, 0.10,
         0.10, 0.08, 0.08, 0.07, 0.07, 0.06, 0.07, 0.08, 0.08, 0.10, 0.12, 0.10,
         0.10, 0.09, 0.09, 0.08, 0.15, 0.20, 0.20, 0.15, 0.17, 0.20, 0.22, 0.25,
         0.20, 0.15, 0.13, 0.12, 0.12, 0.10, 0.30, 0.35, 0.16, 0.15, 0.18, 0.20,
         0.20]

# ---------------- figure ----------------
W, H = 1724, 1219
fig = plt.figure(figsize=(W / 100, H / 100), dpi=100)

RED = '#C0504D'
TICK_FS = 17
LABEL_FS = 19
YLABEL_FS = 18.5
TITLE_FS = 22
LEG_FS = 21.5


def px_rect(x0, y0, x1, y1):
    return [x0 / W, 1 - y1 / H, (x1 - x0) / W, (y1 - y0) / H]


def draw_panel(rect, title, start, end, sim, meas, yticks, xtick_labels, leg_xy, leg_pad):
    ax = fig.add_axes(rect)
    t0 = pd.Timestamp(start)
    sd, sv = zip(*sim)
    st = (t0 + pd.to_timedelta(np.array(sd), unit='D')).to_numpy()
    ax.plot(st, sv, color='black', lw=2.0, zorder=2, solid_joinstyle='miter')
    mt = (t0 + pd.to_timedelta(np.arange(len(meas)) * MEAS_STEP_HOURS, unit='h')).to_numpy()
    ax.plot(mt, meas, ls='none', marker='o', ms=6.6, mfc='none', mec=RED, mew=1.1,
            zorder=3, clip_on=False)

    ax.set_xlim(np.datetime64(pd.Timestamp(start)), np.datetime64(pd.Timestamp(end)))
    ax.set_ylim(yticks[0], yticks[-1])
    xt = pd.to_datetime(xtick_labels, format='%Y/%m/%d %H:%M').to_numpy()
    ax.set_xticks(xt, xtick_labels)
    ax.set_yticks(yticks, [f'{v:g}' for v in yticks])

    for s in ('top', 'right'):
        ax.spines[s].set_visible(False)
    for s in ('left', 'bottom'):
        ax.spines[s].set_linewidth(1.6)
        ax.spines[s].set_color('black')
    ax.tick_params(axis='both', direction='in', length=5, width=1.5, labelsize=TICK_FS, pad=13.5)
    for lab in ax.get_xticklabels() + ax.get_yticklabels():
        lab.set_fontweight('bold')

    ax.set_xlabel('Time', fontsize=LABEL_FS, fontweight='bold', labelpad=9)
    ax.set_ylabel(r'H$_{1/3}$(m)', fontsize=YLABEL_FS, fontweight='bold', labelpad=1)
    ax.set_title(title, fontsize=TITLE_FS, fontweight='bold', pad=21)

    handles = [Line2D([], [], color='black', lw=2.0),
               Line2D([], [], ls='none', marker='o', ms=6.6, mfc='none', mec=RED, mew=1.1)]
    ax.legend(handles, ['simulated', 'measured'], loc='upper left',
              bbox_to_anchor=(leg_xy[0] / W, 1 - leg_xy[1] / H), bbox_transform=fig.transFigure,
              frameon=False, prop={'size': LEG_FS, 'weight': 'bold'},
              handlelength=1.0, handletextpad=leg_pad, labelspacing=0.97,
              borderpad=0, borderaxespad=0)
    return ax


draw_panel(px_rect(80, 52.7, 1677, 319.3), TITLES[0], STARTS[0], ENDS[0], SIM1, MEAS1,
           YTICKS_1, XTICKS_A, (1561, 9), 0.1)
draw_panel(px_rect(81, 486.7, 1677, 695), TITLES[1], STARTS[1], ENDS[1], SIM2, MEAS2,
           YTICKS_2, XTICKS_B, (1555, 437), 0.35)
draw_panel(px_rect(78.3, 841.7, 1690, 1146.7), TITLES[2], STARTS[2], ENDS[2], SIM3, MEAS3,
           YTICKS_3, XTICKS_A, (1536, 797), 0.27)

fig.savefig('out.png', dpi=100)
